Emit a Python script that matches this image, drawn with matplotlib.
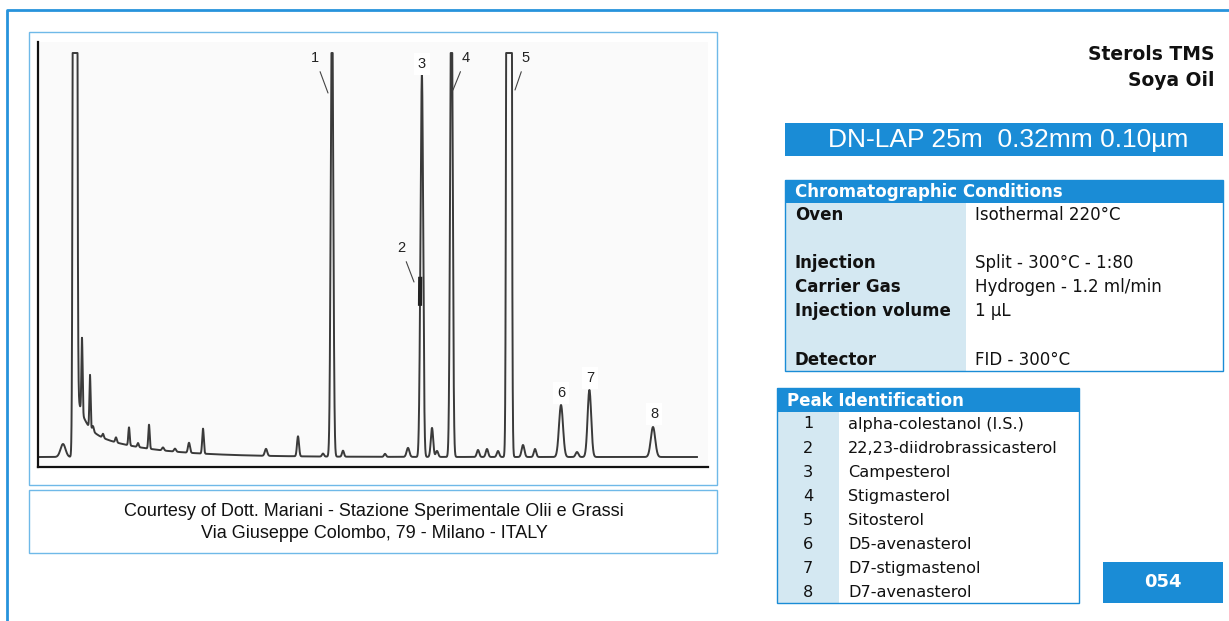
import numpy as np
import matplotlib
matplotlib.use("Agg")
import matplotlib.pyplot as plt
from matplotlib.patches import Rectangle

# ---------------- data ----------------
# chromatogram peaks: retention time (min), height (response units), width sigma (min)
peak_times   = [1.25, 2.20, 2.60, 2.75, 3.25, 3.90, 4.55, 5.00, 5.55, 6.25, 6.85, 7.55,
                8.25, 11.40, 13.00, 14.25, 14.70, 15.25, 17.35, 18.50, 19.11, 19.20,
                19.70, 19.95, 20.67, 22.00, 22.45, 23.00, 23.55, 24.25, 24.85, 26.15,
                26.95, 27.57, 30.75]
peak_heights = [13, 75, 53, 5, 4, 5, 18, 4, 24, 3, 3, 10,
                25, 7, 20, 3, 480, 6, 3, 9, 60, 370,
                29, 6, 520, 7, 8, 6, 9000, 12, 8, 52,
                5, 67, 30]
peak_sigmas  = [0.125, 0.03, 0.03, 0.04, 0.04, 0.04, 0.035, 0.04, 0.035, 0.05, 0.05, 0.05,
                0.04, 0.06, 0.05, 0.05, 0.06, 0.05, 0.05, 0.07, 0.05, 0.06,
                0.06, 0.06, 0.06, 0.06, 0.06, 0.06, 0.06, 0.07, 0.06, 0.10,
                0.07, 0.09, 0.11]

# solvent peak with its tail
solvent_time, solvent_height, solvent_sigma = 1.85, 5000, 0.055
tail_start = 1.90
tail_amps  = [40, 28]      # response units
tail_taus  = [0.40, 3.00]  # min

run_start, run_end = 0.10, 32.95
response_cap = 404          # detector full scale (flat-topped peaks)

# identified peaks (1..8) and their labels
peak_numbers = ["1", "2", "3", "4", "5", "6", "7", "8"]
peak_names = ["alpha-colestanol (I.S.)", "22,23-diidrobrassicasterol", "Campesterol",
              "Stigmasterol", "Sitosterol", "D5-avenasterol", "D7-stigmastenol",
              "D7-avenasterol"]
peak2_time, peak3_time = 19.11, 19.20

title_lines = ["Sterols TMS", "Soya Oil"]
column_text = "DN-LAP 25m  0.32mm 0.10\u00b5m"
cond_labels = ["Oven", "", "Injection", "Carrier Gas", "Injection volume", "", "Detector"]
cond_values = ["Isothermal 220\u00b0C", "", "Split - 300\u00b0C - 1:80",
               "Hydrogen - 1.2 ml/min", "1 \u00b5L", "", "FID - 300\u00b0C"]
courtesy = ["Courtesy of Dott. Mariani - Stazione Sperimentale Olii e Grassi",
            "Via Giuseppe Colombo, 79 - Milano - ITALY"]
app_number = "054"

# ---------------- style ----------------
BLUE = "#1a8cd6"
LIGHT = "#d4e8f2"
FRAME = "#6fb9e8"
W, H = 1229, 621

fig = plt.figure(figsize=(W / 100, H / 100), dpi=100)
bg = fig.add_axes([0, 0, 1, 1])
bg.set_xlim(0, W)
bg.set_ylim(H, 0)
bg.axis("off")

# outer border
bg.plot([7, 7, W + 5], [H + 5, 10, 10], color="#2793dc", lw=2.0, solid_capstyle="butt")
# chart frame and courtesy box
bg.add_patch(Rectangle((29, 32), 688, 453, fill=False, ec=FRAME, lw=1.0))
bg.add_patch(Rectangle((29, 490), 688, 63, fill=False, ec=FRAME, lw=1.0))
for i, line in enumerate(courtesy):
    bg.text(374, 511 + 22 * i, line, ha="center", va="center", fontsize=13,
            family=["Liberation Sans Narrow", "Liberation Sans", "DejaVu Sans"], color="#111111")

# title
for i, line in enumerate(title_lines):
    bg.text(1214, 54 + 26 * i, line, ha="right", va="center", fontsize=13.5,
            fontweight="bold", family="DejaVu Sans", color="#111111")

# column bar
bg.add_patch(Rectangle((785, 123), 438, 33, color=BLUE, lw=0))
bg.text(1008, 140, column_text, ha="center", va="center", fontsize=19,
        family="Liberation Sans", color="white")

FS = 12
# chromatographic conditions table
bg.add_patch(Rectangle((785, 203), 181, 168, color=LIGHT, lw=0))
bg.add_patch(Rectangle((785, 180), 438, 23, color=BLUE, lw=0))
bg.add_patch(Rectangle((785, 180), 438, 191, fill=False, ec=BLUE, lw=1.0))
bg.text(795, 192, "Chromatographic Conditions", ha="left", va="center", fontsize=FS,
        fontweight="bold", family="DejaVu Sans", color="white")
for i, (lab, val) in enumerate(zip(cond_labels, cond_values)):
    y = 215 + 24.1 * i
    bg.text(795, y, lab, ha="left", va="center", fontsize=FS, fontweight="bold",
            family="DejaVu Sans", color="#111111")
    bg.text(975, y, val, ha="left", va="center", fontsize=FS,
            family="DejaVu Sans", color="#111111")

# peak identification table
bg.add_patch(Rectangle((777, 412), 62, 191, color=LIGHT, lw=0))
bg.add_patch(Rectangle((777, 388), 302, 24, color=BLUE, lw=0))
bg.add_patch(Rectangle((777, 388), 302, 215, fill=False, ec=BLUE, lw=1.0))
bg.text(787, 401, "Peak Identification", ha="left", va="center", fontsize=FS,
        fontweight="bold", family="DejaVu Sans", color="white")
for i, (num, name) in enumerate(zip(peak_numbers, peak_names)):
    y = 424 + 24.1 * i
    bg.text(808, y, num, ha="center", va="center", fontsize=11.6,
            family="DejaVu Sans", color="#111111")
    bg.text(848, y, name, ha="left", va="center", fontsize=11.6,
            family="DejaVu Sans", color="#111111")

# application number box
bg.add_patch(Rectangle((1103, 562), 120, 41, color=BLUE, lw=0))
bg.text(1163, 582, app_number, ha="center", va="center", fontsize=13,
        fontweight="bold", family="DejaVu Sans", color="white")

# ---------------- chromatogram ----------------
ax_left, ax_right, ax_top, ax_bottom = 38, 708, 42, 467
ax = fig.add_axes([ax_left / W, 1 - ax_bottom / H, (ax_right - ax_left) / W,
                   (ax_bottom - ax_top) / H])
ax.set_facecolor("#fafafa")
px_per_min = 20.0
ax.set_xlim(0, (ax_right - ax_left) / px_per_min)
ax.set_ylim(-10, 415)

t = np.arange(run_start, run_end, 0.0025)
sig = np.zeros_like(t)
for rt, h, s in zip(peak_times, peak_heights, peak_sigmas):
    sig += h * np.exp(-0.5 * ((t - rt) / s) ** 2)
sig += solvent_height * np.exp(-0.5 * ((t - solvent_time) / solvent_sigma) ** 2)
after = t >= tail_start
for a, tau in zip(tail_amps, tail_taus):
    sig[after] += a * np.exp(-(t[after] - tail_start) / tau)
trace = np.minimum(sig, response_cap)
ax.plot(t, trace, color="#3a3a3a", lw=1.4, solid_joinstyle="round")

# shoulder of peak 2 on the rising flank of peak 3
mask = (trace > 150) & (trace < 185) & (t < peak3_time) & (t > peak2_time - 0.2)
ax.plot(t[mask], trace[mask], color="#222222", lw=3.0, solid_capstyle="butt")

for sp in ["top", "right"]:
    ax.spines[sp].set_visible(False)
for sp in ["left", "bottom"]:
    ax.spines[sp].set_linewidth(1.6)
    ax.spines[sp].set_color("#111111")
ax.set_xticks([])
ax.set_yticks([])


def px2d(x, y):
    return ((x - ax_left) / px_per_min, 457 - y)


# label text positions and leader targets (pixels)
label_layout = {
    "1": ((315, 58), (328, 93)),
    "2": ((401, 248), (414, 282)),
    "3": ((422, 64), None),
    "4": ((466, 58), (453, 90)),
    "5": ((526, 58), (515, 90)),
    "6": ((561, 393), None),
    "7": ((590, 378), None),
    "8": ((654, 414), None),
}
for num in peak_numbers:
    (tx, ty), tgt = label_layout[num]
    bbox = dict(boxstyle="square,pad=0.25", fc="white", ec="none")
    if tgt is None:
        ax.text(*px2d(tx, ty), num, ha="center", va="center", fontsize=10.5,
                family="Liberation Sans", color="#222222", bbox=bbox)
    else:
        ax.annotate(num, xy=px2d(*tgt), xytext=px2d(tx, ty), ha="center", va="center",
                    fontsize=10.5, family="Liberation Sans", color="#222222",
                    arrowprops=dict(arrowstyle="-", color="#444444", lw=0.8,
                                    shrinkA=3, shrinkB=0))

fig.savefig("out.png", dpi=100)
